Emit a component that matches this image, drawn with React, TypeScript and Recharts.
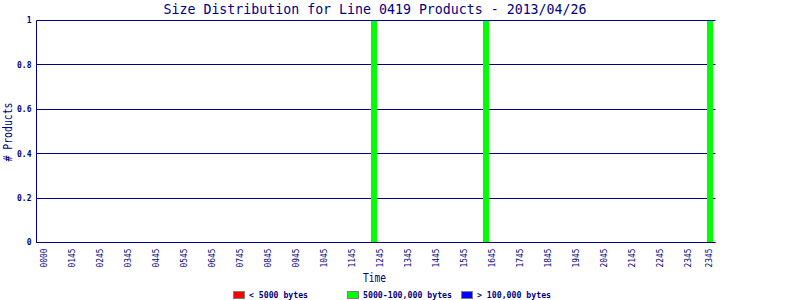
import { BarChart, Bar, XAxis, YAxis, CartesianGrid } from 'recharts';

// 15 minute slots across the day
const slotCount = 96;

// labels printed under the time axis and the slot each one sits on
const tickLabels = [
  '0000', '0145', '0245', '0345', '0445', '0545', '0645', '0745', '0845', '0945',
  '1045', '1145', '1245', '1345', '1445', '1545', '1645', '1745', '1845', '1945',
  '2045', '2145', '2245', '2345', '2345',
];
const tickSlots = [0, 4, 8, 12, 16, 20, 24, 28, 32, 36, 40, 44, 48, 52, 56, 60, 64, 68, 72, 76, 80, 84, 88, 92, 95];

const seriesKeys = ['small', 'medium', 'large'];
const seriesNames = ['< 5000 bytes', '5000-100,000 bytes', '> 100,000 bytes'];
const seriesColors = ['#FF0000', '#00FF00', '#0000FF'];

// [slot, # products] for slots that had anything
const smallHits: [number, number][] = [];
const mediumHits: [number, number][] = [[47, 1], [63, 1], [95, 1]];
const largeHits: [number, number][] = [];

const yTicks = [0, 0.2, 0.4, 0.6, 0.8, 1];

const NAVY = '#000080';
const MONO = '"DejaVu Sans Mono", monospace';

const countAt = (hits: [number, number][], slot: number) => {
  const h = hits.find(([s]) => s === slot);
  return h ? h[1] : 0;
};

const data = Array.from({ length: slotCount }, (_, slot) => ({
  slot,
  small: countAt(smallHits, slot),
  medium: countAt(mediumHits, slot),
  large: countAt(largeHits, slot),
}));

const TimeTick = ({ x, y, payload }: any) => {
  const label = tickLabels[tickSlots.indexOf(payload.value)] ?? '';
  const bx = x + 2;
  const by = y + 6;
  return (
    <text
      x={bx}
      y={by}
      transform={`rotate(-90, ${bx}, ${by})`}
      textAnchor="end"
      fontFamily={MONO}
      fontSize={8}
      fill={NAVY}
      textLength={label.length * 5 - 1}
      lengthAdjust="spacingAndGlyphs"
    >
      {label}
    </text>
  );
};

// grid lines snapped to pixel rows like the gd original
const GridLine = (props: any) => {
  const { x1, x2, y1 } = props;
  const y = Math.round(y1 - 0.5) + 0.5;
  return <line x1={x1} x2={x2} y1={y} y2={y} stroke={NAVY} strokeWidth={1} />;
};

// snap bars to whole pixels, the old gd chart had a 1px blue cap on the stack
const StackBar = (props: any) => {
  const { x, y, width, height, fill } = props;
  const top = Math.round(y);
  const bottom = Math.round(y + height);
  const left = Math.round(x);
  const w = Math.round(width);
  if (bottom - top <= 0) return null;
  return (
    <g>
      <rect x={left} y={top} width={w} height={bottom - top} fill={fill} />
      <rect x={left} y={top - 1} width={w} height={1} fill={seriesColors[2]} />
    </g>
  );
};

export default function App() {
  return (
    <div style={{ position: 'relative', width: 800, height: 300, background: '#fff' }}>
      <style>{'body{margin:0}'}</style>
      <BarChart
        width={800}
        height={300}
        data={data}
        barCategoryGap={0}
        margin={{ top: 20.5, right: 84.5, left: 0, bottom: 0 }}
      >
        <CartesianGrid vertical={false} horizontal={(p: any) => <GridLine key={p.key ?? p.index} {...p} />} />
        <XAxis
          dataKey="slot"
          type="category"
          height={57.5}
          ticks={tickSlots}
          interval={0}
          tick={<TimeTick />}
          tickLine={false}
          tickSize={0}
          tickMargin={0}
          axisLine={{ stroke: NAVY }}
          padding={{ left: 4.5, right: 2.5 }}
        />
        <YAxis
          width={36.5}
          domain={[0, 1]}
          ticks={yTicks}
          tickLine={false}
          tickSize={0}
          tickMargin={5}
          axisLine={{ stroke: NAVY }}
          tick={{ fill: NAVY, fontFamily: MONO, fontSize: 8, fontWeight: 'bold' }}
        />
        <YAxis yAxisId="r" orientation="right" width={0} tick={false} tickLine={false} axisLine={{ stroke: NAVY }} />
        {seriesKeys.map((k, i) => (
          <Bar
            key={k}
            dataKey={k}
            name={seriesNames[i]}
            stackId="size"
            fill={seriesColors[i]}
            barSize={6}
            shape={k === 'medium' ? <StackBar /> : undefined}
            isAnimationActive={false}
          />
        ))}
      </BarChart>

      <svg width={800} height={300} style={{ position: 'absolute', left: 0, top: 0, pointerEvents: 'none' }}>
        <text x={375} y={13.5} textAnchor="middle" fontFamily={MONO} fontSize={13.5} fill={NAVY} textLength={423} lengthAdjust="spacingAndGlyphs">
          Size Distribution for Line 0419 Products - 2013/04/26
        </text>
        <text x={374.5} y={282} textAnchor="middle" fontFamily={MONO} fontSize={12} fill={NAVY} textLength={23} lengthAdjust="spacingAndGlyphs">
          Time
        </text>
        <text x={12} y={132} transform="rotate(-90, 12, 132)" textAnchor="middle" fontFamily={MONO} fontSize={12} fill={NAVY} textLength={59} lengthAdjust="spacingAndGlyphs">
          # Products
        </text>
        {seriesNames.map((name, i) => {
          const sx = 233 + i * 114;
          return (
            <g key={name}>
              <rect x={sx + 0.5} y={291.5} width={11} height={7} fill={seriesColors[i]} stroke="#808080" />
              <text x={sx + 16} y={298} fontFamily={MONO} fontSize={8} fontWeight="bold" fill={NAVY} textLength={name.length * 5 - 1} lengthAdjust="spacingAndGlyphs">
                {name}
              </text>
            </g>
          );
        })}
      </svg>
    </div>
  );
}
